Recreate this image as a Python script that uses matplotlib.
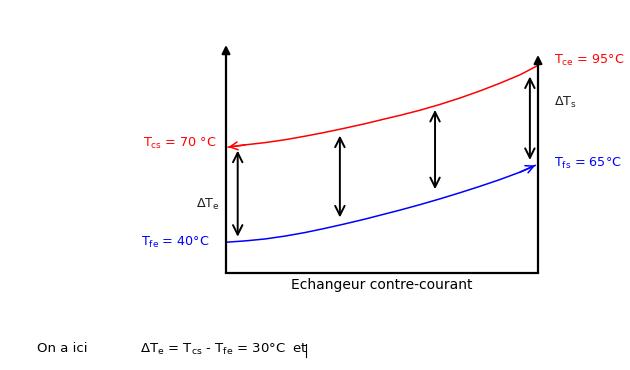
import matplotlib.pyplot as plt
from matplotlib.lines import Line2D

# position along the exchanger (0 = left end, 1 = right end) and temperature in degC
hot_pos = [0.007, 0.061, 0.125, 0.189, 0.253, 0.317, 0.381, 0.446, 0.510,
           0.558, 0.622, 0.686, 0.750, 0.814, 0.878, 0.942, 0.997]
hot_temp = [69.6, 70.3, 71.0, 71.9, 73.0, 74.2, 75.5, 76.9, 78.4,
            79.5, 81.1, 82.9, 84.9, 87.1, 89.5, 92.1, 94.9]
cold_pos = [0.002, 0.061, 0.125, 0.189, 0.253, 0.317, 0.381, 0.446, 0.510,
            0.558, 0.622, 0.686, 0.750, 0.814, 0.878, 0.942, 0.991]
cold_temp = [40.0, 40.4, 41.0, 41.9, 43.0, 44.3, 45.7, 47.2, 48.8,
             50.0, 51.7, 53.5, 55.4, 57.4, 59.5, 61.8, 63.9]

# vertical double arrows showing the temperature gap
gap_pos = [0.0375, 0.365, 0.670, 0.974]
gap_top = [68.5, 73.2, 81.2, 91.6]
gap_bottom = [41.7, 47.7, 56.5, 65.6]

RED = '#ff0000'
BLUE = '#0000ff'

plt.rcParams['font.family'] = ['DejaVu Sans']
plt.rcParams['mathtext.fontset'] = 'dejavusans'

fig = plt.figure(figsize=(6.3, 3.7), dpi=100)
ax = fig.add_axes([226 / 630, 1 - 272.7 / 370, 312 / 630, (272.7 - 45) / 370])
ax.set_xlim(0, 1)
ax.set_ylim(30.5, 101.4)
for side in ['top', 'left', 'right']:
    ax.spines[side].set_visible(False)
ax.spines['bottom'].set_linewidth(1.6)
ax.set_xticks([])
ax.set_yticks([])

# vertical axes with filled arrow heads
axis_arrow = dict(arrowstyle='-|>', color='black', lw=1.6, mutation_scale=12,
                  shrinkA=0, shrinkB=0)
ax.annotate('', xy=(0, 101.4), xytext=(0, 30.5), arrowprops=axis_arrow,
            annotation_clip=False)
ax.annotate('', xy=(1, 98.3), xytext=(1, 30.5), arrowprops=axis_arrow,
            annotation_clip=False)

# hot fluid flows right -> left, cold fluid left -> right
ax.plot(hot_pos, hot_temp, color=RED, lw=1.1, clip_on=False)
ax.annotate('', xy=(hot_pos[0], hot_temp[0]), xytext=(hot_pos[1], hot_temp[1]),
            arrowprops=dict(arrowstyle='->', color=RED, lw=1.1, mutation_scale=14,
                            shrinkA=0, shrinkB=0), annotation_clip=False)
ax.plot(cold_pos, cold_temp, color=BLUE, lw=1.1, clip_on=False)
ax.annotate('', xy=(cold_pos[-1], cold_temp[-1]), xytext=(cold_pos[-2], cold_temp[-2]),
            arrowprops=dict(arrowstyle='->', color=BLUE, lw=1.1, mutation_scale=14,
                            shrinkA=0, shrinkB=0), annotation_clip=False)

for x, top, bottom in zip(gap_pos, gap_top, gap_bottom):
    ax.annotate('', xy=(x, top), xytext=(x, bottom),
                arrowprops=dict(arrowstyle='<->', color='black', lw=1.4,
                                mutation_scale=17, shrinkA=0, shrinkB=0))

fs = 9.2
ax.text(-0.266, 70.9, r'T$_\mathrm{cs}$ = 70 °C', color=RED, fontsize=fs,
        va='center', ha='left')
ax.text(-0.272, 39.8, r'T$_\mathrm{fe}$ = 40°C', color=BLUE, fontsize=fs,
        va='center', ha='left')
ax.text(-0.096, 51.6, r'ΔT$_\mathrm{e}$', color='#222222', fontsize=fs,
        va='center', ha='left')
ax.text(1.051, 96.5, r'T$_\mathrm{ce}$ = 95°C', color=RED, fontsize=fs,
        va='center', ha='left')
ax.text(1.051, 83.4, r'ΔT$_\mathrm{s}$', color='#222222', fontsize=fs,
        va='center', ha='left')
ax.text(1.051, 64.4, r'T$_\mathrm{fs}$ = 65°C', color=BLUE, fontsize=fs,
        va='center', ha='left')
ax.text(0.5, 26.7, 'Echangeur contre-courant', color='black', fontsize=10,
        va='center', ha='center')

fig.text(36.7 / 630, 1 - 349 / 370, 'On a ici', fontsize=9.5, va='center', ha='left')
fig.text(140 / 630, 1 - 349 / 370,
         r'ΔT$_\mathrm{e}$ = T$_\mathrm{cs}$ - T$_\mathrm{fe}$ = 30°C  et',
         fontsize=9.5, va='center', ha='left')
fig.add_artist(Line2D([306 / 630, 306 / 630], [1 - 357 / 370, 1 - 344 / 370],
                      color='black', lw=0.8))

fig.savefig('out.png', dpi=100)
